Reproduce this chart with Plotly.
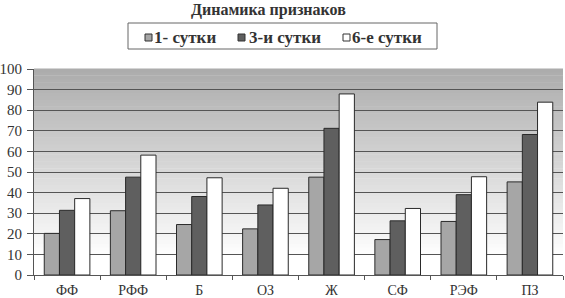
import plotly.graph_objects as go

categories = ["ФФ", "РФФ", "Б", "ОЗ", "Ж", "СФ", "РЭФ", "ПЗ"]
series_names = ["1- сутки", "3-и сутки", "6-е сутки"]
day1 = [20.2, 31.2, 24.5, 22.4, 47.5, 17.2, 26.0, 45.2]
day3 = [31.4, 47.5, 38.1, 34.0, 71.2, 26.3, 39.0, 68.2]
day6 = [37.1, 58.2, 47.2, 42.1, 87.9, 32.3, 47.7, 83.9]
y_ticks = [0, 10, 20, 30, 40, 50, 60, 70, 80, 90, 100]

colors = ["#a6a6a6", "#5f5f5f", "#ffffff"]
FONT = "Liberation Serif, serif"
W, H = 565, 298
ML, MR, MT, MB = 34, 2, 69, 23
PW, PH = W - ML - MR, H - MT - MB


def px(x):
    return (x - ML) / PW


def py(y):
    return (H - MB - y) / PH


fig = go.Figure()
for name, vals, c in zip(series_names, [day1, day3, day6], colors):
    fig.add_trace(go.Bar(
        x=categories, y=vals, name=name, showlegend=False,
        marker=dict(color=c, line=dict(color="#2a2a2a", width=1)),
    ))

# vertical gradient background (gray at top -> white at bottom)
shapes = []
n = 60
for i in range(n):
    t = i / (n - 1)  # 0 bottom -> 1 top
    f = max(0.0, (t - 0.08) / 0.92)
    v = int(round(255 - (255 - 172) * f))
    col = f"rgb({v},{v},{v})"
    shapes.append(dict(type="rect", xref="paper", yref="paper",
                       x0=0, x1=1, y0=i / n, y1=(i + 1) / n + 0.002,
                       fillcolor=col, line=dict(width=0), layer="below"))

# manual legend (box, swatches, labels)
shapes.append(dict(type="rect", xref="paper", yref="paper",
                   x0=px(128), x1=px(437), y0=py(49), y1=py(23),
                   fillcolor="white", line=dict(color="#666666", width=1), layer="above"))
annotations = []
sw_x = [145, 238, 343]
tx_x = [152, 247, 350]
for name, c, sx, tx in zip(series_names, colors, sw_x, tx_x):
    shapes.append(dict(type="rect", xref="paper", yref="paper",
                       x0=px(sx), x1=px(sx + 7), y0=py(41), y1=py(34),
                       fillcolor=c, line=dict(color="#333333", width=1), layer="above"))
    annotations.append(dict(text=f"<b>{name}</b>", xref="paper", yref="paper",
                            x=px(tx), y=py(37.5), xanchor="left", yanchor="middle",
                            showarrow=False,
                            font=dict(family=FONT, size=17, color="#333333")))

annotations.append(dict(text="<b>Динамика признаков</b>", xref="paper", yref="paper",
                        x=px(268), y=py(10), xanchor="center", yanchor="middle",
                        showarrow=False, font=dict(family=FONT, size=16, color="#333333")))

fig.update_layout(
    width=W, height=H,
    margin=dict(l=ML, r=MR, t=MT, b=MB, autoexpand=False),
    paper_bgcolor="white", plot_bgcolor="white",
    barmode="group", bargap=0.31, bargroupgap=0.0,
    shapes=shapes, annotations=annotations,
    font=dict(family=FONT, color="#333333", size=15),
    showlegend=False,
)
fig.update_xaxes(showgrid=False, ticks="outside", tickson="boundaries", ticklen=4,
                 tickcolor="#555555", showline=True, linecolor="#555555", automargin=False,
                 ticklabelstandoff=2,
                 tickfont=dict(family=FONT, size=14, color="#333333"))
fig.update_yaxes(range=[0, 100], tickvals=y_ticks, showgrid=True, gridcolor="#555555",
                 gridwidth=1, ticks="outside", ticklen=6, tickcolor="#555555",
                 showline=True, linecolor="#555555", zeroline=False, automargin=False,
                 ticklabelstandoff=2,
                 tickfont=dict(family=FONT, size=15, color="#333333"))

fig.write_html("out.html", config={"displayModeBar": False},
               post_script="document.body.style.margin='0';document.body.style.padding='0';")
